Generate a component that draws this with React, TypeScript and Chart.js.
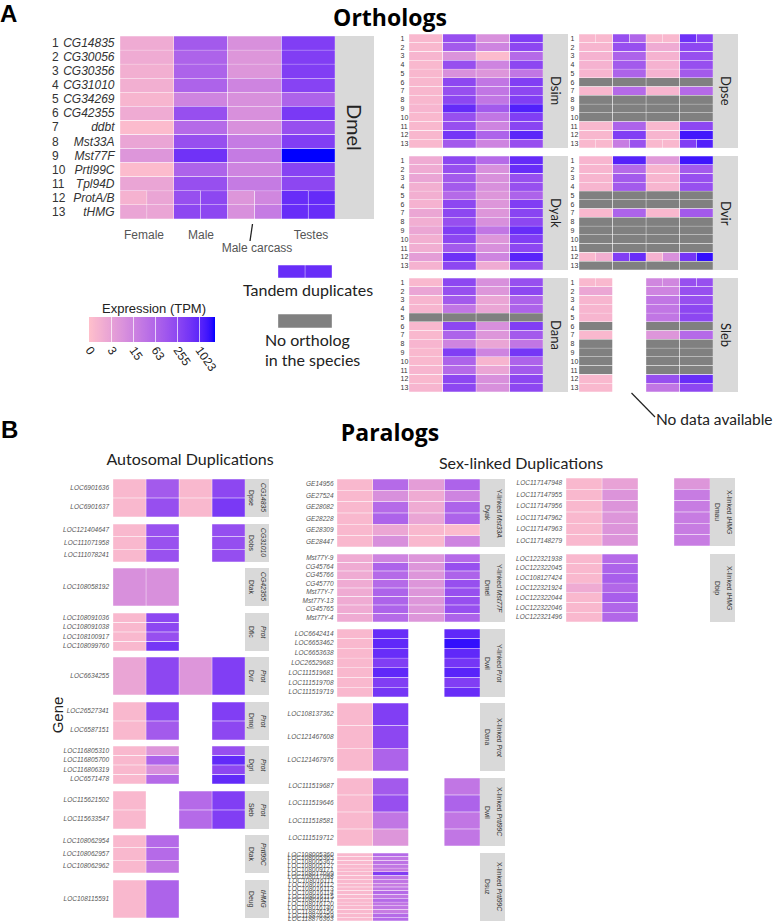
import React, { useEffect, useRef } from "react";
import { Chart, registerables } from "chart.js";
Chart.register(...registerables);

// ---------- DATA (expression levels = log2(TPM + 1); G = no ortholog; null = no data) ----------
const G = -1;
const LEVEL_MAX = 11.45;
const TPM_TICK_LEVELS = [0, 2, 4, 6, 8, 10];
const TPM_TICK_LABELS = ["0", "3", "15", "63", "255", "1023"];
const TISSUES = ["Female", "Male", "Male carcass", "Testes"];

const ORTHO_GENES = ["CG14835", "CG30056", "CG30356", "CG31010", "CG34269", "CG42355", "ddbt", "Mst33A", "Mst77F", "Prtl99C", "Tpl94D", "ProtA/B", "tHMG"];
const ORTHO_NUMS = ["1", "2", "3", "4", "5", "6", "7", "8", "9", "10", "11", "12", "13"];

const DMEL = [
  [1.4, 6.8, 3.2, 8.6],
  [1.4, 6.2, 2.8, 8.6],
  [1.1, 6.2, 2.8, 8.6],
  [1.1, 6.2, 4.0, 8.3],
  [0.7, 4.0, 3.2, 6.2],
  [1.4, 7.5, 3.2, 8.9],
  [0.3, 5.7, 3.2, 7.5],
  [1.8, 7.5, 4.6, 8.6],
  [2.8, 9.3, 4.6, 11.45],
  [0.3, 6.2, 4.0, 8.3],
  [1.8, 7.5, 4.6, 8.0],
  [[0.9, 1.8], [7.5, 8.0], [2.8, 3.8], [9.6, 9.7]],
  [[1.8, 1.8], [8.0, 8.0], [3.2, 4.6], [9.6, 9.6]],
];
const DSIM = [
  [0.5, 7.5, 3.2, 8.6],
  [0.5, 6.8, 4.0, 8.0],
  [0.7, 3.0, 0.3, 5.7],
  [0.5, 7.5, 4.0, 8.0],
  [0.6, 3.2, 2.8, 4.9],
  [0.6, 8.0, 4.9, 8.6],
  [0.6, 7.5, 4.9, 8.0],
  [0.6, 8.0, 4.9, 8.6],
  [0.7, 9.7, 6.8, 10.3],
  [0.5, 7.5, 4.9, 8.6],
  [0.5, 7.5, 4.0, 8.2],
  [0.6, 9.1, 6.2, 10.0],
  [0.5, 6.8, 4.0, 7.5],
];
const DPSE = [
  [[0.5, 0.5], [7.5, 6.0], [0.5, 0.5], [9.4, 8.3]],
  [0.7, 7.5, 1.4, 8.0],
  [0.9, 6.2, 0.9, 7.5],
  [0.9, 6.8, 0.9, 7.5],
  [0.7, 6.2, 0.9, 6.8],
  [G, G, G, G],
  [0.6, 5.7, 0.7, 5.7],
  [G, G, G, G],
  [G, G, G, G],
  [G, G, G, G],
  [0.5, 6.2, 0.5, 8.0],
  [0.6, 8.6, 0.7, 10.7],
  [[0.5, 0.5], [4.5, 7.3], [0.5, 0.5], [8.6, 10.3]],
];
const DYAK = [
  [1.4, 8.0, 5.7, 9.7],
  [1.4, 7.5, 3.2, 9.6],
  [1.8, 6.8, 3.2, 7.5],
  [1.1, 6.8, 3.2, 7.5],
  [1.1, 5.7, 2.8, 6.2],
  [0.9, 8.0, 2.8, 8.6],
  [1.7, 8.0, 2.8, 8.2],
  [1.2, 7.5, 3.2, 8.0],
  [1.7, 8.6, 4.9, 9.6],
  [1.1, 8.0, 2.8, 8.6],
  [1.2, 6.8, 3.2, 8.0],
  [2.3, 9.4, 4.0, 10.1],
  [0.9, 8.0, 1.4, 7.5],
];
const DVIR = [
  [0.7, 10.2, 2.6, 10.8],
  [0.7, 5.7, 0.7, 6.8],
  [0.7, 6.8, 0.7, 7.5],
  [0.7, 6.8, 0.7, 7.5],
  [G, G, G, G],
  [G, G, G, G],
  [0.5, 6.2, 0.5, 6.8],
  [G, G, G, G],
  [G, G, G, G],
  [G, G, G, G],
  [G, G, G, G],
  [[0.5, 1.1], [8.6, 9.6], [0.9, 3.2], [9.1, 11.0]],
  [G, G, G, G],
];
const DANA = [
  [0.5, 8.0, 3.2, 7.5],
  [1.8, 7.5, 2.8, 8.0],
  [0.7, 6.8, 1.8, 6.2],
  [0.7, 4.9, 1.8, 6.2],
  [G, G, G, G],
  [0.5, 8.0, 3.2, 8.6],
  [0.5, 6.2, 2.8, 6.8],
  [0.7, 4.0, 1.8, 4.9],
  [0.5, 8.6, 4.0, 9.1],
  [0.5, 6.2, 0.7, 6.2],
  [0.7, 5.7, 1.8, 6.8],
  [0.5, 8.0, 3.2, 8.0],
  [0.7, 8.0, 3.2, 8.0],
];
const SLEB = [
  [[0.5, 0.5], null, [3.8, 3.8], [7.5, 7.5]],
  [1.7, null, 4.0, 7.5],
  [0.7, null, 4.9, 7.5],
  [0.7, null, 4.9, 8.0],
  [0.7, null, 4.9, 8.0],
  [G, null, G, G],
  [0.5, null, 2.8, 5.7],
  [G, null, G, G],
  [G, null, G, G],
  [G, null, G, G],
  [G, null, G, G],
  [0.5, null, 7.5, 9.6],
  [0.5, null, 4.9, 8.0],
];

// Autosomal duplications
const AUTO1_GENES = ["LOC6901636", "LOC6901637"];
const AUTO1_VALUES = [[0.5, 6.8, 0.5, 8.0], [0.5, 7.5, 0.5, 8.9]];
const AUTO2_GENES = ["LOC121404647", "LOC111071958", "LOC111078241"];
const AUTO2_VALUES = [[0.5, 7.4, null, 7.6], [0.5, 7.4, null, 7.6], [0.5, 7.4, null, 7.6]];
const AUTO3_GENES = ["LOC108058192"];
const AUTO3_VALUES = [[3.2, 3.2, null, null]];
const AUTO4_GENES = ["LOC108091036", "LOC108091038", "LOC108100917", "LOC108099760"];
const AUTO4_VALUES = [[0.5, 8.0, null, null], [0.5, 8.0, null, null], [0.5, 7.5, null, null], [0.5, 9.1, null, null]];
const AUTO5_GENES = ["LOC6634255"];
const AUTO5_VALUES = [[1.8, 8.0, 2.8, 8.6]];
const AUTO6_GENES = ["LOC26527341", "LOC6587151"];
const AUTO6_VALUES = [[0.5, 8.0, null, 8.6], [0.5, 6.8, null, 8.0]];
const AUTO7_GENES = ["LOC116805310", "LOC116805700", "LOC116806319", "LOC6571478"];
const AUTO7_VALUES = [[0.5, 2.8, null, 7.5], [0.5, 6.2, null, 9.8], [0.5, 3.2, null, 8.0], [0.5, 5.7, null, 9.8]];
const AUTO8_GENES = ["LOC115621502", "LOC115633547"];
const AUTO8_VALUES = [[0.5, null, 5.7, 8.6], [0.5, null, 5.7, 8.6]];
const AUTO9_GENES = ["LOC108062954", "LOC108062957", "LOC108062962"];
const AUTO9_VALUES = [[0.5, 5.7, null, null], [0.5, 5.7, null, null], [0.5, 4.9, null, null]];
const AUTO10_GENES = ["LOC108115591"];
const AUTO10_VALUES = [[0.5, 6.2, null, null]];

// Sex-linked duplications
const SEX1_GENES = ["GE14956", "GE27524", "GE28082", "GE28228", "GE28309", "GE28447"];
const SEX1_VALUES = [
  [0.5, 5.7, 2.3, 6.2],
  [0.5, 3.2, 1.4, 4.0],
  [0.5, 5.7, 1.4, 6.2],
  [0.5, 6.2, 1.8, 6.2],
  [0.5, 1.7, 0.5, 0.3],
  [0.5, 3.2, 0.5, 4.0],
];
const SEX2_GENES = ["Mst77Y-9", "CG45764", "CG45766", "CG45770", "Mst77Y-7", "Mst77Y-13", "CG45765", "Mst77Y-4"];
const SEX2_VALUES = [
  [1.4, 4.0, 2.8, 5.7],
  [1.4, 6.2, 2.8, 7.5],
  [1.4, 5.7, 2.8, 6.2],
  [1.4, 5.7, 2.8, 7.5],
  [1.4, 6.2, 2.8, 7.5],
  [1.4, 6.2, 2.8, 7.5],
  [1.4, 6.2, 2.8, 7.5],
  [1.4, 5.7, 2.8, 6.2],
];
const SEX3_GENES = ["LOC6642414", "LOC6653462", "LOC6653638", "LOC26529683", "LOC111519681", "LOC111519708", "LOC111519719"];
const SEX3_VALUES = [
  [0.5, 9.6, null, 9.9],
  [0.5, 9.9, null, 11.0],
  [0.5, 9.6, null, 9.9],
  [0.5, 8.6, null, 9.1],
  [0.5, 9.9, null, 10.1],
  [0.5, 8.6, null, 8.6],
  [0.5, 9.1, null, 9.6],
];
const SEX4_GENES = ["LOC108137362", "LOC121467608", "LOC121467976"];
const SEX4_VALUES = [[0.5, 8.6, null, null], [0.5, 8.0, null, null], [0.5, 6.2, null, null]];
const SEX5_GENES = ["LOC111519687", "LOC111519646", "LOC111518581", "LOC111519712"];
const SEX5_VALUES = [[0.5, 6.8, null, 4.9], [0.5, 7.5, null, 6.2], [0.5, 4.9, null, 4.9], [0.5, 2.8, null, 4.9]];
const SEX6_GENES = ["LOC108005360", "LOC108005365", "LOC108005367", "LOC108005127", "LOC108009171", "LOC108017099", "LOC108017098", "LOC108016111", "LOC108016112", "LOC108016113", "LOC108016114", "LOC108016115", "LOC108016117", "LOC108016120", "LOC108016140", "LOC118876156", "LOC118876359", "LOC118876363"];
const SEX6_VALUES = [
  [0.5, 5.7, null, null], [0.5, 4.9, null, null], [0.5, 5.2, null, null], [0.5, 4.9, null, null],
  [0.5, 4.5, null, null], [0.5, 8.6, null, null], [0.5, 4.9, null, null], [0.5, 4.9, null, null],
  [0.5, 4.5, null, null], [0.5, 4.9, null, null], [0.5, 5.7, null, null], [0.5, 4.9, null, null],
  [0.5, 5.7, null, null], [0.5, 4.9, null, null], [0.5, 4.9, null, null], [0.5, 4.5, null, null],
  [0.5, 5.7, null, null], [0.5, 5.7, null, null],
];
const SEX7_GENES = ["LOC117147948", "LOC117147955", "LOC117147956", "LOC117147962", "LOC117147963", "LOC117148279"];
const SEX7_VALUES = [
  [0.5, 2.0, null, 2.8],
  [0.5, 2.9, null, 4.5],
  [0.5, 2.9, null, 4.5],
  [0.5, 2.8, null, 4.5],
  [0.5, 2.9, null, 4.5],
  [0.5, 2.9, null, 4.5],
];
const SEX8_GENES = ["LOC122321938", "LOC122322045", "LOC108127424", "LOC122321924", "LOC122322044", "LOC122322046", "LOC122321496"];
const SEX8_VALUES = [
  [0.5, 5.7, null, null],
  [0.5, 6.2, null, null],
  [0.5, 6.5, null, null],
  [1.4, 5.9, null, null],
  [0.5, 6.5, null, null],
  [0.5, 6.0, null, null],
  [0.5, 5.9, null, null],
];

const TANDEM_SWATCH = [[[9.6, 9.6]]];
const GRAY_SWATCH = [[G]];

// ---------- COLOUR SCALE (pink -> blue, Lab interpolation) ----------
const LOW_RGB = [255, 192, 203];
const HIGH_RGB = [0, 0, 255];
const toLin = (c: number) => { c /= 255; return c <= 0.04045 ? c / 12.92 : Math.pow((c + 0.055) / 1.055, 2.4); };
const fromLin = (c: number) => { const v = c <= 0.0031308 ? 12.92 * c : 1.055 * Math.pow(c, 1 / 2.4) - 0.055; return Math.round(Math.max(0, Math.min(1, v)) * 255); };
const fLab = (t: number) => (t > 0.008856 ? Math.cbrt(t) : 7.787 * t + 16 / 116);
const fInv = (t: number) => (t > 0.206893 ? t * t * t : (t - 16 / 116) / 7.787);
function rgb2lab(rgb: number[]) {
  const [R, Gc, B] = rgb.map(toLin);
  const X = (0.4124 * R + 0.3576 * Gc + 0.1805 * B) / 0.95047;
  const Y = 0.2126 * R + 0.7152 * Gc + 0.0722 * B;
  const Z = (0.0193 * R + 0.1192 * Gc + 0.9505 * B) / 1.08883;
  const fx = fLab(X), fy = fLab(Y), fz = fLab(Z);
  return [116 * fy - 16, 500 * (fx - fy), 200 * (fy - fz)];
}
function lab2rgb(lab: number[]) {
  const fy = (lab[0] + 16) / 116, fx = fy + lab[1] / 500, fz = fy - lab[2] / 200;
  const X = fInv(fx) * 0.95047, Y = fInv(fy), Z = fInv(fz) * 1.08883;
  const R = 3.2406 * X - 1.5372 * Y - 0.4986 * Z;
  const Gc = -0.9689 * X + 1.8758 * Y + 0.0415 * Z;
  const B = 0.0557 * X - 0.204 * Y + 1.057 * Z;
  return [fromLin(R), fromLin(Gc), fromLin(B)];
}
const LAB_LOW = rgb2lab(LOW_RGB);
const LAB_HIGH = rgb2lab(HIGH_RGB);
function levelColor(v: number) {
  if (v === G) return "#808080";
  const t = Math.max(0, Math.min(1, v / LEVEL_MAX));
  const lab = LAB_LOW.map((a, i) => a + (LAB_HIGH[i] - a) * t);
  const [r, g, b] = lab2rgb(lab);
  return `rgb(${r},${g},${b})`;
}

// ---------- STYLE ----------
const SANS = "'Liberation Sans', Arial, sans-serif";
const HUM = "Lato, 'Open Sans', sans-serif";
const W = 781;

// ---------- COMPONENTS ----------
function Heatmap({ x, y, w, h, rows, cols = 4, bw = 0.5 }: any) {
  const ref = useRef<HTMLCanvasElement | null>(null);
  useEffect(() => {
    if (!ref.current) return;
    const labels = rows.map((_: any, i: number) => String(i + 1));
    const datasets: any[] = [];
    for (let c = 0; c < cols; c++) {
      for (let k = 0; k < 2; k++) {
        datasets.push({
          data: rows.map((r: any[]) => {
            const v = r[c];
            if (v === null || v === undefined) return null;
            if (Array.isArray(v)) return [c + k / 2, c + (k + 1) / 2];
            return k === 0 ? [c, c + 1] : null;
          }),
          backgroundColor: rows.map((r: any[]) => {
            const v = r[c];
            if (v === null || v === undefined) return "rgba(0,0,0,0)";
            return levelColor(Array.isArray(v) ? v[k] : v);
          }),
          borderColor: "#ffffff",
          borderWidth: bw,
          borderSkipped: false,
          grouped: false,
          barPercentage: 1,
          categoryPercentage: 1,
        });
      }
    }
    const chart = new Chart(ref.current, {
      type: "bar",
      data: { labels, datasets },
      options: {
        indexAxis: "y",
        animation: false,
        responsive: false,
        events: [],
        layout: { padding: 0 },
        plugins: { legend: { display: false }, tooltip: { enabled: false } },
        scales: {
          x: { type: "linear", min: 0, max: cols, display: false },
          y: { type: "category", display: false },
        },
      },
    } as any);
    return () => chart.destroy();
  }, []);
  return <canvas ref={ref} width={w} height={h} style={{ position: "absolute", left: x, top: y, width: w, height: h }} />;
}

function ColorBar({ x, y, w, h }: any) {
  const ref = useRef<HTMLCanvasElement | null>(null);
  useEffect(() => {
    if (!ref.current) return;
    const chart = new Chart(ref.current, {
      type: "bar",
      data: {
        labels: ["TPM"],
        datasets: [
          {
            data: [[0, LEVEL_MAX]],
            backgroundColor: (ctx: any) => {
              const ch = ctx.chart;
              const ca = ch.chartArea;
              if (!ca) return levelColor(0);
              const g = ch.ctx.createLinearGradient(ca.left, 0, ca.right, 0);
              for (let i = 0; i <= 40; i++) g.addColorStop(i / 40, levelColor((i / 40) * LEVEL_MAX));
              return g;
            },
            borderWidth: 0,
            barPercentage: 1,
            categoryPercentage: 1,
          },
        ],
      },
      options: {
        indexAxis: "y",
        animation: false,
        responsive: false,
        events: [],
        layout: { padding: 0 },
        plugins: { legend: { display: false }, tooltip: { enabled: false } },
        scales: {
          x: {
            type: "linear",
            min: 0,
            max: LEVEL_MAX,
            afterBuildTicks: (s: any) => { s.ticks = TPM_TICK_LEVELS.slice(1).map((v) => ({ value: v })); },
            afterFit: (s: any) => { s.height = 0; },
            grid: { color: "rgba(255,255,255,0.7)", lineWidth: 1, z: 1, drawTicks: false },
            border: { display: false },
            ticks: { display: false },
          },
          y: { display: false },
        },
      },
    } as any);
    return () => chart.destroy();
  }, []);
  return <canvas ref={ref} width={w} height={h} style={{ position: "absolute", left: x, top: y, width: w, height: h }} />;
}

function T({ x, y, children, anchor = "middle", size = 12, font = SANS, weight = 400, italic = false, color = "#333", rotate = 0 }: any) {
  const tx = anchor === "middle" ? "-50%" : anchor === "end" ? "-100%" : "0";
  return (
    <div
      style={{
        position: "absolute", left: x, top: y, whiteSpace: "nowrap", fontSize: size, fontFamily: font, fontWeight: weight,
        fontStyle: italic ? "italic" : "normal", color, lineHeight: 1,
        transform: `translate(${tx}, -50%)` + (rotate ? ` rotate(${rotate}deg)` : ""),
        transformOrigin: "50% 50%",
      }}
    >
      {children}
    </div>
  );
}

function RowLabels({ labels, y, h, x, align = "right", size = 6.5, italic = true, color = "#555", font = SANS }: any) {
  const rh = h / labels.length;
  return (
    <>
      {labels.map((l: string, i: number) => (
        <div
          key={i}
          style={{
            position: "absolute", top: y + i * rh, height: rh,
            ...(align === "right" ? { right: W - x, justifyContent: "flex-end" } : { left: x }),
            display: "flex", alignItems: "center", whiteSpace: "nowrap", fontSize: size, fontFamily: font,
            fontStyle: italic ? "italic" : "normal", color, lineHeight: 1,
          }}
        >
          {l}
        </div>
      ))}
    </>
  );
}

function Strip({ x, y, w, h, children, size = 6.8, lh = 12, font = SANS, color = "#333" }: any) {
  return (
    <div style={{ position: "absolute", left: x, top: y, width: w, height: h, background: "#d9d9d9", display: "flex", alignItems: "center", justifyContent: "center", overflow: "hidden" }}>
      <div style={{ writingMode: "vertical-rl", fontSize: size, lineHeight: lh + "px", color, fontFamily: font, whiteSpace: "nowrap", textAlign: "center" }}>{children}</div>
    </div>
  );
}

// ---------- LAYOUT ----------
const ORTHO_SMALL = [
  { name: "Dsim", rows: DSIM, x: 409, y: 34, numX: 400.5 },
  { name: "Dpse", rows: DPSE, x: 579, y: 34, numX: 570.5 },
  { name: "Dyak", rows: DYAK, x: 409, y: 156, numX: 400.5 },
  { name: "Dvir", rows: DVIR, x: 579, y: 156, numX: 570.5 },
  { name: "Dana", rows: DANA, x: 409, y: 278, numX: 400.5 },
  { name: "Sleb", rows: SLEB, x: 579, y: 278, numX: 570.5 },
];

const AUTO_PANELS = [
  { genes: AUTO1_GENES, rows: AUTO1_VALUES, y: 479, gene: "CG14835", sp: "Dpse" },
  { genes: AUTO2_GENES, rows: AUTO2_VALUES, y: 524, gene: "CG31010", sp: "Dobs" },
  { genes: AUTO3_GENES, rows: AUTO3_VALUES, y: 568, gene: "CG42355", sp: "Dtak" },
  { genes: AUTO4_GENES, rows: AUTO4_VALUES, y: 613, gene: "Prot", sp: "Dfic" },
  { genes: AUTO5_GENES, rows: AUTO5_VALUES, y: 657, gene: "Prot", sp: "Dvir" },
  { genes: AUTO6_GENES, rows: AUTO6_VALUES, y: 702, gene: "Prot", sp: "Dmoj" },
  { genes: AUTO7_GENES, rows: AUTO7_VALUES, y: 746, gene: "Prot", sp: "Dgri" },
  { genes: AUTO8_GENES, rows: AUTO8_VALUES, y: 791, gene: "Prot", sp: "Sleb" },
  { genes: AUTO9_GENES, rows: AUTO9_VALUES, y: 835, gene: "Prtl99C", sp: "Dtak" },
  { genes: AUTO10_GENES, rows: AUTO10_VALUES, y: 880, gene: "tHMG", sp: "Deug" },
];

const SEX_PANELS = [
  { genes: SEX1_GENES, rows: SEX1_VALUES, x: 337, w: 143, y: 479, lx: 333.5, link: "Y-linked", gene: "Mst33A", sp: "Dyak" },
  { genes: SEX2_GENES, rows: SEX2_VALUES, x: 337, w: 143, y: 554, lx: 333.5, link: "Y-linked", gene: "Mst77F", sp: "Dmel" },
  { genes: SEX3_GENES, rows: SEX3_VALUES, x: 337, w: 143, y: 629, lx: 333.5, link: "Y-linked", gene: "Prot", sp: "Dwil" },
  { genes: SEX4_GENES, rows: SEX4_VALUES, x: 337, w: 143, y: 703, lx: 333.5, link: "X-linked", gene: "Prot", sp: "Dana" },
  { genes: SEX5_GENES, rows: SEX5_VALUES, x: 337, w: 143, y: 778, lx: 333.5, link: "X-linked", gene: "Prtl99C", sp: "Dwil" },
  { genes: SEX6_GENES, rows: SEX6_VALUES, x: 337, w: 143, y: 853, lx: 333.5, link: "X-linked", gene: "Prtl99C", sp: "Dsuz" },
  { genes: SEX7_GENES, rows: SEX7_VALUES, x: 566, w: 144, y: 478, lx: 562, link: "X-linked", gene: "tHMG", sp: "Dmau" },
  { genes: SEX8_GENES, rows: SEX8_VALUES, x: 566, w: 144, y: 554, lx: 562, link: "X-linked", gene: "tHMG", sp: "Dbip" },
];

export default function App() {
  const drmelRowH = 183 / ORTHO_GENES.length;
  const cbLeft = 89, cbW = 126;
  return (
    <div style={{ position: "absolute", left: 0, top: 0, width: W, height: 922, background: "#fff", overflow: "hidden", fontFamily: SANS }}>
      {/* ---------- Panel A ---------- */}
      <T x={0} y={14} anchor="start" size={24} weight={700} color="#000">A</T>
      <T x={390} y={17} size={23} weight={700} font="'Open Sans', Lato, sans-serif" color="#000">Orthologs</T>

      {/* Dmel */}
      <RowLabels labels={ORTHO_NUMS} y={36} h={183} x={52} align="left" size={12} italic={false} color="#333" />
      <RowLabels labels={ORTHO_GENES} y={36} h={183} x={114.5} size={12} italic color="#333" />
      <Heatmap x={120} y={36} w={215} h={183} rows={DMEL} />
      <Strip x={335} y={36} w={39} h={183} size={20} lh={24} font={HUM} color="#222">Dmel</Strip>
      <T x={144} y={235} size={12} color="#555">{TISSUES[0]}</T>
      <T x={201} y={235} size={12} color="#555">{TISSUES[1]}</T>
      <T x={257} y={248} size={12} color="#555">{TISSUES[2]}</T>
      <T x={311} y={235} size={12} color="#555">{TISSUES[3]}</T>

      {/* small ortholog panels */}
      {ORTHO_SMALL.map((p) => (
        <React.Fragment key={p.name}>
          <RowLabels labels={ORTHO_NUMS} y={p.y} h={114} x={p.numX} align="left" size={7} italic={false} color="#333" />
          <Heatmap x={p.x} y={p.y} w={134} h={114} rows={p.rows} />
          <Strip x={p.x + 134} y={p.y} w={25} h={114} size={13} lh={16} font={HUM} color="#222">{p.name}</Strip>
        </React.Fragment>
      ))}

      {/* legends */}
      <Heatmap x={278} y={265} w={54} h={13} rows={TANDEM_SWATCH} cols={1} />
      <T x={308} y={290} size={16} font={HUM} color="#222">Tandem duplicates</T>
      <Heatmap x={278} y={314} w={54} h={14} rows={GRAY_SWATCH} cols={1} />
      <T x={265} y={340} anchor="start" size={16} font={HUM} color="#222">No ortholog</T>
      <T x={265} y={360} anchor="start" size={16} font={HUM} color="#222">in the species</T>

      <T x={154} y={308} size={13} color="#222">Expression (TPM)</T>
      <ColorBar x={cbLeft} y={317} w={cbW} h={25} />
      {TPM_TICK_LABELS.map((lab, i) => (
        <div
          key={lab}
          style={{
            position: "absolute", left: cbLeft + (TPM_TICK_LEVELS[i] / LEVEL_MAX) * cbW + 4.5, top: 344, fontSize: 12, fontFamily: SANS,
            color: "#222", lineHeight: "14px", whiteSpace: "nowrap", transform: "rotate(55deg)", transformOrigin: "0 0",
          }}
        >
          {lab}
        </div>
      ))}

      <T x={656} y={420} anchor="start" size={15.5} font={HUM} color="#222">No data available</T>

      {/* ---------- Panel B ---------- */}
      <T x={1} y={430} anchor="start" size={24} weight={700} color="#000">B</T>
      <T x={390} y={432} size={23} weight={700} font="'Open Sans', Lato, sans-serif" color="#000">Paralogs</T>
      <T x={190} y={459} size={16} font={HUM} color="#222">Autosomal Duplications</T>
      <T x={521} y={463} size={16} font={HUM} color="#222">Sex-linked Duplications</T>
      <T x={57} y={715} size={15} color="#222" rotate={-90}>Gene</T>

      {AUTO_PANELS.map((p, i) => (
        <React.Fragment key={"a" + i}>
          <RowLabels labels={p.genes} y={p.y} h={38} x={109} />
          <Heatmap x={113} y={p.y} w={132} h={38} rows={p.rows} />
          <Strip x={245} y={p.y} w={24} h={38}>
            <i>{p.gene}</i>
            <br />
            {p.sp}
          </Strip>
        </React.Fragment>
      ))}

      {SEX_PANELS.map((p, i) => (
        <React.Fragment key={"s" + i}>
          <RowLabels labels={p.genes} y={p.y} h={68.5} x={p.lx} />
          <Heatmap x={p.x} y={p.y} w={p.w} h={68} rows={p.rows} />
          <Strip x={p.x + p.w} y={p.y} w={25} h={68}>
            {p.link} <i>{p.gene}</i>
            <br />
            {p.sp}
          </Strip>
        </React.Fragment>
      ))}

      <svg width={W} height={922} style={{ position: "absolute", left: 0, top: 0, pointerEvents: "none" }}>
        <line x1={252.5} y1={224} x2={250} y2={241} stroke="#222" strokeWidth={1.3} />
        <line x1={631.5} y1={393} x2={655} y2={417} stroke="#222" strokeWidth={1.2} />
      </svg>
    </div>
  );
}
